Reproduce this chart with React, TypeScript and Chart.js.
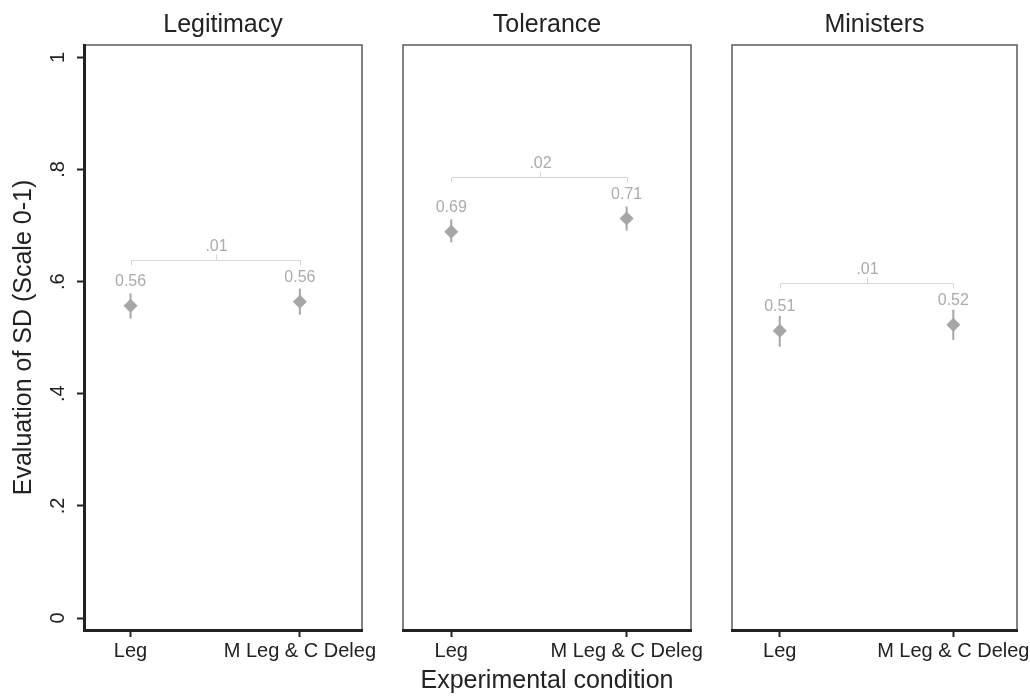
import React, { useEffect, useRef } from 'react';
import { Chart, registerables } from 'chart.js';

Chart.register(...registerables);

// ---------- data ----------
const panelTitles = ['Legitimacy', 'Tolerance', 'Ministers'];
const categories = ['Leg', 'M Leg & C Deleg'];
const categoryPositions = [0, 1];

const meanLegitimacy = [0.557, 0.564];
const lowLegitimacy = [0.534, 0.541];
const highLegitimacy = [0.579, 0.5875];

const meanTolerance = [0.689, 0.7125];
const lowTolerance = [0.67, 0.691];
const highTolerance = [0.711, 0.734];

const meanMinisters = [0.5125, 0.523];
const lowMinisters = [0.484, 0.496];
const highMinisters = [0.539, 0.55];

const diffLabels = ['.01', '.02', '.01'];
const bracketLevels = [0.639, 0.787, 0.598];

const yTickValues = [0, 0.2, 0.4, 0.6, 0.8, 1];
const yTickLabels = ['0', '.2', '.4', '.6', '.8', '1'];

const yAxisTitle = 'Evaluation of SD (Scale 0-1)';
const xAxisTitle = 'Experimental condition';

// ---------- styling / layout ----------
const FONT = "'Liberation Sans', Arial, Helvetica, sans-serif";
const MARKER = '#a6a6a6';
const LABEL = '#ababab';
const BRACKET = '#d6d6d6';
const INK = '#222222';

const panels = [
  { title: panelTitles[0], mean: meanLegitimacy, low: lowLegitimacy, high: highLegitimacy, diff: diffLabels[0], bracket: bracketLevels[0], left: 0, width: 392, padL: 0, padR: 30, showY: true, showXTitle: false },
  { title: panelTitles[1], mean: meanTolerance, low: lowTolerance, high: highTolerance, diff: diffLabels[1], bracket: bracketLevels[1], left: 383, width: 338, padL: 20, padR: 30, showY: false, showXTitle: true },
  { title: panelTitles[2], mean: meanMinisters, low: lowMinisters, high: highMinisters, diff: diffLabels[2], bracket: bracketLevels[2], left: 712, width: 318, padL: 20, padR: 13, showY: false, showXTitle: false },
];

const annotate = {
  id: 'annotate',
  beforeDraw(chart: any) {
    const { ctx, chartArea: a } = chart;
    ctx.save();
    ctx.strokeStyle = '#5a5a5a';
    ctx.lineWidth = 1.5;
    ctx.strokeRect(a.left, a.top, a.right - a.left, a.bottom - a.top);
    ctx.restore();
  },
  beforeDatasetsDraw(chart: any, _args: any, opts: any) {
    const p = opts.panel;
    const { ctx } = chart;
    const x = chart.scales.x;
    const y = chart.scales.y;
    ctx.save();
    // error bars
    ctx.strokeStyle = MARKER;
    ctx.lineWidth = 2;
    p.mean.forEach((_m: number, i: number) => {
      const px = x.getPixelForValue(categoryPositions[i]);
      ctx.beginPath();
      ctx.moveTo(px, y.getPixelForValue(p.low[i]));
      ctx.lineTo(px, y.getPixelForValue(p.high[i]));
      ctx.stroke();
    });
    // value labels
    ctx.fillStyle = LABEL;
    ctx.font = `16px ${FONT}`;
    ctx.textAlign = 'center';
    ctx.textBaseline = 'alphabetic';
    p.mean.forEach((m: number, i: number) => {
      const px = x.getPixelForValue(categoryPositions[i]);
      ctx.fillText(m.toFixed(2), px, y.getPixelForValue(m) - 20);
    });
    // bracket
    const by = Math.round(y.getPixelForValue(p.bracket)) + 0.5;
    const x0 = Math.round(x.getPixelForValue(categoryPositions[0])) + 0.5;
    const x1 = Math.round(x.getPixelForValue(categoryPositions[1])) + 0.5;
    const mid = Math.round((x0 + x1) / 2) + 0.5;
    ctx.strokeStyle = BRACKET;
    ctx.lineWidth = 1;
    ctx.beginPath();
    ctx.moveTo(x0, by + 5);
    ctx.lineTo(x0, by);
    ctx.lineTo(x1, by);
    ctx.lineTo(x1, by + 5);
    ctx.moveTo(mid, by);
    ctx.lineTo(mid, by - 6);
    ctx.stroke();
    ctx.fillText(p.diff, mid, by - 10);
    ctx.restore();
  },
};

function Panel({ p }: { p: any }) {
  const ref = useRef<HTMLCanvasElement | null>(null);
  useEffect(() => {
    if (!ref.current) return;
    const chart = new Chart(ref.current, {
      type: 'scatter',
      data: {
        datasets: [
          {
            data: p.mean.map((m: number, i: number) => ({ x: categoryPositions[i], y: m })),
            pointStyle: 'rectRot',
            pointRadius: 7,
            pointHoverRadius: 7,
            backgroundColor: MARKER,
            borderWidth: 0,
          },
        ],
      },
      options: {
        responsive: false,
        animation: false,
        events: [],
        layout: { padding: { left: p.padL, right: p.padR, top: 0, bottom: 0 } },
        plugins: {
          legend: { display: false },
          tooltip: { enabled: false },
          title: {
            display: true,
            text: p.title,
            color: INK,
            fullSize: false,
            font: { family: FONT, size: 25, weight: 'normal' },
            padding: { top: 10.5, bottom: 4.5 },
          },
          annotate: { panel: p },
        } as any,
        scales: {
          x: {
            type: 'linear',
            min: -0.275,
            max: 1.367,
            afterBuildTicks: (s: any) => {
              s.ticks = categoryPositions.map((v) => ({ value: v }));
            },
            afterFit: (s: any) => {
              s.height = 68;
              s.paddingLeft = 0;
              s.paddingRight = 0;
            },
            ticks: {
              callback: (_v: any, i: number) => categories[i],
              color: INK,
              font: { family: FONT, size: 20 },
              padding: 2,
              maxRotation: 0,
              autoSkip: false,
            },
            grid: { drawOnChartArea: false, drawTicks: true, tickLength: 7, tickColor: INK, tickWidth: 2 },
            border: { display: true, color: INK, width: 3 },
            title: {
              display: p.showXTitle,
              text: xAxisTitle,
              color: INK,
              font: { family: FONT, size: 25 },
              padding: { top: 0, bottom: 2 },
            },
          },
          y: {
            type: 'linear',
            display: p.showY,
            min: -0.0214,
            max: 1.0221,
            afterBuildTicks: (s: any) => {
              s.ticks = yTickValues.map((v) => ({ value: v }));
            },
            afterFit: (s: any) => {
              s.width = p.showY ? 84 : 0;
              s.paddingTop = 0;
              s.paddingBottom = 0;
            },
            ticks: {
              callback: (_v: any, i: number) => yTickLabels[i],
              color: INK,
              font: { family: FONT, size: 20 },
              minRotation: 90,
              maxRotation: 90,
              crossAlign: 'center',
              padding: 10,
              autoSkip: false,
            },
            grid: { drawOnChartArea: false, drawTicks: true, tickLength: 7, tickColor: INK, tickWidth: 2 },
            border: { display: true, color: INK, width: 3 },
            title: {
              display: true,
              text: yAxisTitle,
              color: INK,
              font: { family: FONT, size: 25 },
              padding: { top: 9, bottom: 0 },
            },
          },
        },
      },
      plugins: [annotate as any],
    });
    return () => chart.destroy();
  }, [p]);
  return (
    <canvas
      ref={ref}
      width={p.width}
      height={698}
      style={{ position: 'absolute', left: p.left, top: 0, width: p.width, height: 698, display: 'block' }}
    />
  );
}

export default function App() {
  return (
    <div style={{ position: 'absolute', left: 0, top: 0, width: 1030, height: 698, background: '#ffffff', overflow: 'hidden' }}>
      {panels.map((p, i) => (
        <Panel key={i} p={p} />
      ))}
    </div>
  );
}
